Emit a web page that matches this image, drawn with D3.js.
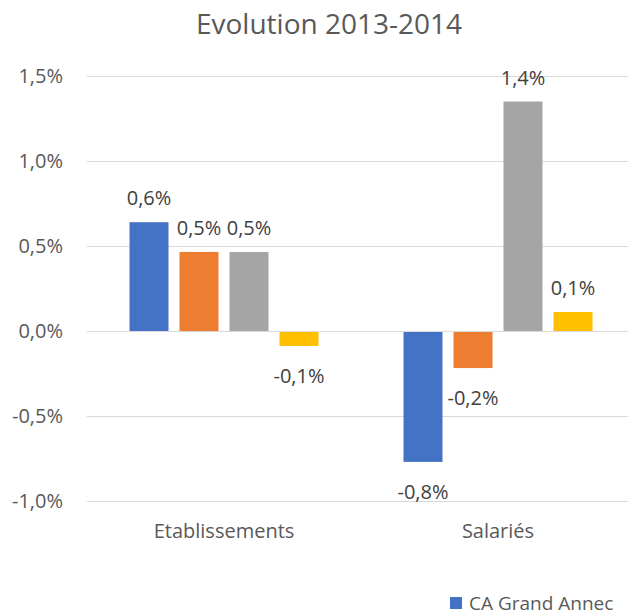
<!DOCTYPE html>
<html lang="fr">
<head>
    <meta charset="UTF-8">
    <title>Evolution 2013-2014</title>
    <script src="https://cdnjs.cloudflare.com/ajax/libs/d3/7.8.5/d3.min.js"></script>
    <style>
        body {
            margin: 0;
            background: white;
            font-family: 'Open Sans', sans-serif;
        }
        svg { display: block; overflow: hidden; }
        .grid { stroke: #d9d9d9; stroke-width: 1; }
        .tick-label { font-size: 20px; fill: #595959; }
        .cat-label { font-size: 20px; fill: #595959; }
        .value-label { font-size: 20px; fill: #404040; }
        .title { font-size: 28px; fill: #595959; }
        .legend-label { font-size: 19px; fill: #595959; }
    </style>
</head>
<body>
    <div id="chart"></div>

    <script>
        // Data (in %)
        const categories = ["Etablissements", "Salariés"];
        const series = ["CA Grand Annecy", "Série 2", "Série 3", "Série 4"];
        const values = [
            [0.64, -0.77],   // CA Grand Annecy
            [0.465, -0.218], // série 2
            [0.465, 1.35],   // série 3
            [-0.088, 0.112]  // série 4
        ];
        const labels = [
            ["0,6%", "-0,8%"],
            ["0,5%", "-0,2%"],
            ["0,5%", "1,4%"],
            ["-0,1%", "0,1%"]
        ];
        const yTicks = [-1.0, -0.5, 0, 0.5, 1.0, 1.5];
        const yTickLabels = ["-1,0%", "-0,5%", "0,0%", "0,5%", "1,0%", "1,5%"];
        const colors = ["#4472C4", "#ED7D31", "#A5A5A5", "#FFC000"];
        // the legend is cut at the right edge in the original, only this part shows
        const legendText = "CA Grand Annec";

        const W = 628, H = 616;

        const svg = d3.select("#chart")
            .append("svg")
            .attr("width", W)
            .attr("height", H);

        // Scales
        const x0 = d3.scaleBand()
            .domain(categories)
            .range([87, 635]);

        const x1 = d3.scaleBand()
            .domain(series)
            .range([37, 237])
            .paddingInner(0.22)
            .paddingOuter(0.11);

        const y = d3.scaleLinear()
            .domain([-1, 1.5])
            .range([501, 76]);

        // Title
        svg.append("text")
            .attr("class", "title")
            .attr("x", 329)
            .attr("y", 34)
            .attr("text-anchor", "middle")
            .text("Evolution 2013-2014");

        // Grid lines
        svg.selectAll(".grid")
            .data(yTicks)
            .enter()
            .append("line")
            .attr("class", "grid")
            .attr("x1", 87)
            .attr("x2", W)
            .attr("y1", d => Math.round(y(d)) + 0.5)
            .attr("y2", d => Math.round(y(d)) + 0.5);

        // Y tick labels
        svg.selectAll(".tick-label")
            .data(yTicks)
            .enter()
            .append("text")
            .attr("class", "tick-label")
            .attr("x", 63)
            .attr("y", d => y(d))
            .attr("dy", "0.35em")
            .attr("text-anchor", "end")
            .text((d, i) => yTickLabels[i]);

        // Bars
        const bars = [];
        series.forEach((s, si) => {
            categories.forEach((c, ci) => {
                bars.push({ s, si, c, v: values[si][ci], label: labels[si][ci] });
            });
        });

        svg.selectAll(".bar")
            .data(bars)
            .enter()
            .append("rect")
            .attr("class", "bar")
            .attr("x", d => x0(d.c) + x1(d.s))
            .attr("width", x1.bandwidth())
            .attr("y", d => y(Math.max(0, d.v)))
            .attr("height", d => Math.abs(y(d.v) - y(0)))
            .attr("fill", d => colors[d.si]);

        // Zero line on top
        svg.append("line")
            .attr("class", "grid")
            .attr("x1", 87)
            .attr("x2", W)
            .attr("y1", Math.round(y(0)) + 0.5)
            .attr("y2", Math.round(y(0)) + 0.5);

        // Value labels
        svg.selectAll(".value-label")
            .data(bars)
            .enter()
            .append("text")
            .attr("class", "value-label")
            .attr("x", d => x0(d.c) + x1(d.s) + x1.bandwidth() / 2)
            .attr("y", d => d.v >= 0 ? y(d.v) - 17 : y(d.v) + 37)
            .attr("text-anchor", "middle")
            .text(d => d.label);

        // Category labels
        svg.selectAll(".cat-label")
            .data(categories)
            .enter()
            .append("text")
            .attr("class", "cat-label")
            .attr("x", d => x0(d) + x0.bandwidth() / 2)
            .attr("y", 538)
            .attr("text-anchor", "middle")
            .text(d => d);

        // Legend (only the first entry fits in the frame)
        const legend = svg.append("g").attr("transform", "translate(450,597)");
        legend.append("rect")
            .attr("width", 12)
            .attr("height", 12)
            .attr("fill", colors[0]);
        legend.append("text")
            .attr("class", "legend-label")
            .attr("x", 19)
            .attr("y", 6)
            .attr("dy", "0.35em")
            .text(legendText);
    </script>
</body>
</html>
